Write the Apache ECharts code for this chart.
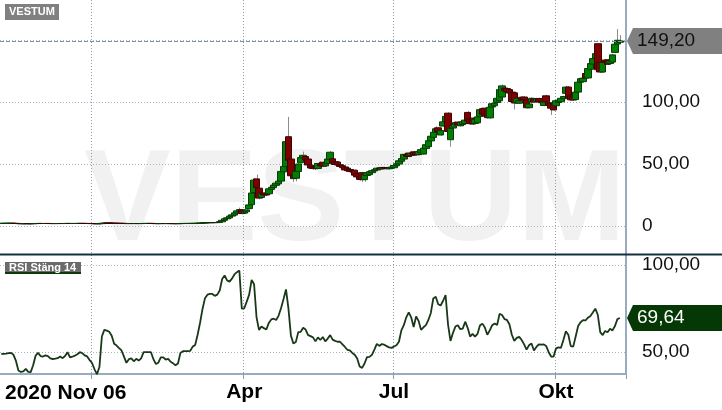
<!DOCTYPE html>
<html>
<head>
<meta charset="utf-8">
<script src="https://cdn.jsdelivr.net/npm/echarts@6/dist/echarts.min.js"></script>
<style>
  html, body { margin: 0; padding: 0; background: #fff; }
  #chart { width: 722px; height: 410px; }
</style>
</head>
<body>
<div id="chart"></div>
<script>
var holidays = ['2020-12-24','2020-12-25','2020-12-31','2021-01-01','2021-01-06','2021-04-02','2021-04-05','2021-05-13','2021-06-25'];
var firstDay = '2020-11-06';
var dayCount = 253;
var padCount = 2;
// quarter starts (index of first trading day): Jan, Apr, Jul, Okt
var quarterMarks = {37: '', 99: 'Apr', 160: 'Jul', 226: 'Okt'};
var firstLabel = '2020 Nov 06';
var priceTicks = [0, 50, 100];
var rsiTicks = [50, 100];
var lastPrice = 149.20;
var lastRsi = 69.64;

// [open, close, low, high]
var candles = [
  [2.06,2.10,2.02,2.14],[2.10,2.12,2.07,2.16],[2.12,2.14,2.09,2.18],[2.14,2.15,2.10,2.19],[2.15,2.16,2.11,2.22],[2.16,2.12,2.08,2.18],
  [2.12,2.02,1.98,2.14],[2.02,1.92,1.88,2.04],[1.92,1.90,1.86,1.95],[1.90,1.91,1.87,1.94],[1.91,1.93,1.88,1.96],[1.93,1.90,1.87,1.95],
  [1.90,1.89,1.85,1.93],[1.89,1.94,1.87,1.97],[1.94,2.02,1.92,2.05],[2.02,2.05,2.00,2.08],[2.05,2.02,1.99,2.07],[2.02,2.01,1.98,2.04],
  [2.01,2.03,1.99,2.06],[2.03,2.02,1.99,2.05],[2.02,1.99,1.96,2.04],[1.99,1.98,1.95,2.01],[1.98,1.99,1.96,2.02],[1.99,2.00,1.97,2.03],
  [2.00,2.02,1.98,2.05],[2.02,2.00,1.97,2.04],[2.00,2.03,1.98,2.06],[2.03,2.06,2.01,2.09],[2.06,2.01,1.99,2.08],[2.01,2.02,1.98,2.05],
  [2.02,2.04,2.00,2.07],[2.04,2.05,2.02,2.08],[2.05,2.07,2.03,2.10],[2.07,2.06,2.03,2.09],[2.06,2.04,2.01,2.08],[2.04,2.03,2.00,2.06],
  [2.03,1.99,1.96,2.05],[1.99,1.96,1.93,2.01],[1.96,1.90,1.87,1.98],[1.90,1.85,1.81,1.92],[1.85,1.92,1.83,1.95],[1.92,2.20,1.90,2.26],
  [2.20,2.30,2.16,2.36],[2.30,2.29,2.24,2.34],[2.29,2.27,2.22,2.32],[2.27,2.22,2.18,2.29],[2.22,2.14,2.10,2.24],[2.14,2.12,2.08,2.17],
  [2.12,2.10,2.06,2.15],[2.10,2.08,2.04,2.13],[2.08,2.03,2.00,2.10],[2.03,1.97,1.94,2.05],[1.97,2.00,1.95,2.03],[2.00,2.01,1.97,2.04],
  [2.01,1.98,1.95,2.03],[1.98,2.00,1.96,2.02],[2.00,1.98,1.95,2.02],[1.98,2.00,1.96,2.03],[2.00,2.05,1.98,2.08],[2.05,2.05,2.02,2.08],
  [2.05,2.06,2.02,2.09],[2.06,2.05,2.02,2.08],[2.05,1.99,1.96,2.06],[1.99,1.95,1.92,2.01],[1.95,1.96,1.92,1.99],[1.96,2.00,1.94,2.03],
  [2.00,2.00,1.97,2.03],[2.00,1.98,1.95,2.02],[1.98,1.99,1.95,2.02],[1.99,1.96,1.93,2.01],[1.96,1.95,1.92,1.98],[1.95,1.93,1.90,1.97],
  [1.93,1.94,1.90,1.97],[1.94,2.02,1.92,2.05],[2.02,2.04,2.00,2.07],[2.04,2.04,2.01,2.07],[2.04,2.05,2.01,2.08],[2.05,2.05,2.02,2.08],
  [2.05,2.09,2.03,2.12],[2.09,2.11,2.06,2.15],[2.11,2.20,2.09,2.24],[2.20,2.32,2.18,2.36],[2.32,2.48,2.30,2.52],[2.48,2.62,2.45,2.68],
  [2.62,2.70,2.58,2.76],[2.70,2.74,2.66,2.80],[2.74,2.76,2.70,2.82],[2.76,2.75,2.70,2.82],[2.75,2.85,2.72,2.92],
  [2.9,3.5,2.85,3.7],[3.4,4.6,3.3,4.8],[4.6,5.8,4.5,6.2],[5.8,6.6,5.5,7.0],[6.5,8.0,6.3,8.4],[8.0,9.0,7.6,9.6],
  [8.8,10.6,8.5,11.2],[10.5,12.2,10.0,12.8],[11.8,13.2,11.5,14.8],[13.0,10.0,9.5,13.4],[10.4,11.6,10.0,12.4],[11.5,13.0,11.2,13.6],
  [14.0,17.0,13.8,17.6],[17.2,26.6,17.0,27.5],[27.0,37.0,26.5,38.5],[38.0,31.0,30.0,41.5],[30.5,22.5,21.5,31.0],[23.0,26.4,22.5,27.0],
  [26.6,25.0,24.5,27.2],[25.6,25.0,24.0,26.5],[26.0,30.0,25.5,30.8],[29.5,31.2,29.0,32.0],[31.0,33.0,30.5,33.8],[32.8,34.6,32.2,35.2],
  [34.0,36.2,33.5,37.0],[36.2,44.0,36.0,45.0],[43.6,48.0,43.0,49.0],[48.0,68.0,47.5,70.0],[72.0,53.0,51.0,88.0],[54.0,40.5,39.5,55.0],
  [41.0,38.2,35.5,42.0],[38.5,44.0,36.0,45.0],[44.0,50.0,43.0,51.0],[51.0,55.2,50.5,56.0],[55.0,57.0,54.0,60.0],[56.0,53.2,52.5,56.5],
  [54.0,49.2,48.5,54.5],[49.0,46.8,46.0,50.0],[47.6,46.4,45.5,48.5],[47.4,46.2,45.0,48.0],[46.4,50.4,46.0,51.0],[50.0,48.6,48.0,52.0],
  [51.4,48.2,47.5,52.0],[48.5,50.2,47.8,51.0],[50.4,54.0,50.0,55.0],[53.5,59.5,53.0,60.5],[54.2,51.2,50.5,57.0],[51.8,49.6,49.0,53.0],
  [51.6,49.2,48.5,52.4],[49.4,48.0,47.2,50.2],[48.6,47.0,46.2,49.4],[47.6,45.2,44.5,48.2],[46.6,44.6,43.6,47.4],[45.6,44.0,43.0,46.2],
  [44.6,43.6,42.8,45.4],[45.0,41.0,40.0,45.6],[42.0,39.6,38.5,42.6],[40.0,37.6,36.5,40.8],[43.0,37.4,35.5,43.6],[37.4,41.0,35.6,42.5],
  [40.8,43.0,40.0,44.0],[41.4,43.8,40.6,44.6],[43.0,44.6,42.0,45.4],[44.4,45.4,43.6,46.2],[45.2,46.6,44.8,47.4],[46.8,46.0,45.4,47.6],
  [46.0,47.2,45.6,47.8],[47.2,46.8,46.2,47.8],[46.8,46.2,45.8,47.4],[46.2,46.6,45.4,47.2],[46.6,47.6,46.0,48.2],[47.0,48.8,46.6,49.4],
  [48.6,50.2,48.0,51.0],[50.0,52.6,49.6,53.4],[52.2,54.4,51.6,55.2],[54.0,57.8,53.6,58.6],[57.6,56.2,55.4,58.4],[58.8,56.0,55.6,59.4],
  [57.0,58.6,56.2,59.4],[59.8,57.2,56.8,60.4],[59.6,57.4,57.0,60.6],[57.6,60.0,57.0,60.8],[59.4,61.6,58.6,62.4],[58.0,62.8,57.4,63.4],
  [62.4,65.6,61.6,66.4],[64.0,68.8,63.4,69.6],[68.6,72.4,68.0,73.4],
  [71.4,75.6,70.8,76.6],[75.4,78.4,74.8,80.4],[79.2,76.2,75.8,80.0],[73.4,77.0,72.8,78.0],[80.6,84.0,80.0,85.0],[84.2,88.4,83.6,89.4],
  [91.0,76.2,75.6,91.8],[69.6,78.8,64.0,79.4],[79.0,80.6,78.4,81.4],[81.4,83.4,80.8,84.2],[83.8,81.4,80.8,84.4],[80.8,83.6,80.2,84.4],
  [81.8,84.0,81.2,84.8],[82.6,85.4,82.0,86.2],[91.6,84.6,84.0,92.6],[86.2,82.6,82.0,87.0],[87.0,82.2,81.6,87.8],[82.8,86.0,82.2,86.6],
  [83.2,88.0,82.6,89.0],[88.4,93.8,87.8,94.6],[94.6,90.2,89.4,95.4],[95.0,89.0,88.4,95.6],[92.8,87.4,86.8,93.6],[87.2,95.8,86.6,96.6],
  [96.0,98.6,95.6,99.4],[97.0,99.0,96.4,99.8],[99.6,103.0,99.0,104.0],[101.0,110.0,100.4,111.6],[104.0,113.0,103.4,114.2],[111.2,109.0,108.4,112.0],
  [110.8,108.2,107.6,111.6],[110.0,107.2,100.6,110.8],[108.0,100.4,99.6,108.6],[107.4,99.2,94.0,108.0],[99.4,102.8,98.8,103.6],[99.0,101.0,98.4,101.8],
  [103.8,101.6,101.0,104.6],[104.0,101.8,100.6,104.8],[101.6,95.4,94.8,102.4],[95.4,98.4,94.8,99.2],[100.0,103.0,99.4,103.8],[102.6,100.0,99.4,103.2],
  [100.4,102.6,99.8,103.4],[102.8,100.2,99.6,103.6],[99.8,99.4,98.8,101.0],[97.2,100.0,96.6,100.8],[105.0,100.2,99.6,105.8],[99.4,97.6,97.0,100.2],
  [99.0,95.0,89.6,99.6],[97.6,93.6,93.0,98.2],[97.0,101.0,96.4,101.8],[99.6,101.4,98.8,102.2],[100.2,103.0,99.6,103.8],[102.6,104.4,102.0,105.0],
  [107.0,112.0,106.4,113.0],[112.0,103.2,102.6,112.8],[105.6,101.8,101.2,106.4],[104.2,101.6,101.0,104.8],[102.0,108.0,101.4,108.8],[108.0,116.0,107.4,117.0],
  [116.0,118.8,115.4,119.6],[116.4,119.2,115.8,120.0],[123.0,119.4,118.8,123.6],[119.4,127.0,118.8,128.0],[126.4,131.0,125.8,131.8],[130.6,135.0,130.0,135.8],
  [135.0,139.0,134.4,140.0],[147.0,126.0,125.4,147.6],[132.0,124.2,123.6,132.8],[124.2,131.8,123.6,132.6],[133.8,132.2,131.6,134.6],[134.0,130.4,129.8,134.8],
  [131.0,133.0,130.4,133.8],[132.2,138.0,131.6,138.8],[140.0,146.6,139.4,147.4],[146.8,149.8,146.2,158.8],[148.2,149.2,147.6,154.0]
];

var rsi = [
  49, 49, 49.2, 49.5, 49.6, 48.5, 45, 39.5, 38.7, 39,
  40.4, 38.7, 38.6, 42.5, 48, 49.6, 47.8, 47.5, 48.2, 47.8,
  46.4, 46.1, 46.3, 46.6, 47.5, 46.6, 47.8, 50, 47, 47.4,
  48, 48.8, 50, 49.5, 48.2, 47.6, 45.5, 43.8, 40.2, 37.4,
  41.5, 59, 62.8, 62.4, 61.7, 59.5, 54.8, 53.8, 52.3, 51,
  47.5, 43.9, 46, 46.5, 44.8, 46.2, 45.2, 46.5, 50, 50,
  50, 50, 46, 43.2, 44, 47, 47, 45.8, 46.2, 44.5,
  43.6, 42.5, 43.5, 49.6, 50.6, 50.6, 50.6, 50.8, 53.2, 54.1,
  60, 66.9, 74.8, 81, 83, 83.5, 83.4, 82.3, 83, 85.4,
  92, 94, 91.2, 90.5, 92.2, 94.6, 95.9, 96.8, 75, 75.2,
  79, 83, 91.5, 89, 70, 62.8, 64.8, 63.8, 63, 66.8,
  68.8, 69.2, 68.5, 71, 75.3, 80.5, 86, 75, 59.5, 55,
  55.8, 61.5, 61.7, 64, 63, 59.8, 59.2, 58.5, 56.2, 58.5,
  57, 58.7, 56.2, 57.8, 59.8, 57.2, 56.5, 56, 56, 54.5,
  53, 51.4, 51, 49.6, 48.6, 46.4, 41.8, 41, 43.5, 47.2,
  47.3, 48.5, 51.5, 54.8, 53.6, 54.7, 54.3, 53.5, 52.8, 52.5,
  53.3, 54, 56, 62.5, 65.5, 70, 72.8, 70, 64.5, 70.5,
  68, 62.8, 64.3, 65.5, 68.5, 72.5, 80.8, 81.8, 77.5, 76.8,
  79.5, 82.8, 66, 56.5, 61, 64.7, 65.5, 63.2, 63.5, 67.5,
  64, 59, 60.5, 59, 60.5, 65.3, 66.4, 64.2, 60, 62.5,
  65.5, 66.5, 65.6, 72, 71.3, 69, 68.5, 66, 60, 56.5,
  58.2, 58.8, 57, 54.5, 51.5, 54, 55, 51, 53, 54.5,
  54.3, 54.5, 53.5, 50, 47.5, 47.5, 52.2, 52.8, 52.5, 57,
  62, 60, 53.5, 53.2, 59, 65, 67.2, 68.4, 68.2, 69.8,
  70.8, 72.8, 75, 71.5, 61.5, 59.8, 62.2, 61.4, 63.4, 62.5,
  65, 69, 69.64
];

var FONT = '"Liberation Sans", Arial, sans-serif';

function tradingDays(start, n) {
  var out = [];
  var d = new Date(start + 'T12:00:00Z');
  while (out.length < n) {
    var s = d.toISOString().slice(0, 10);
    var wd = d.getUTCDay();
    if (wd !== 0 && wd !== 6 && holidays.indexOf(s) < 0) out.push(s);
    d.setUTCDate(d.getUTCDate() + 1);
  }
  return out;
}

var dates = tradingDays(firstDay, dayCount);
for (var p = 0; p < padCount; p++) dates.push('pad' + p);

var bodies = candles.map(function (c) {
  return [c[0], c[1], Math.min(c[0], c[1]), Math.max(c[0], c[1])];
});
var wicks = candles.map(function (c, i) { return [i, c[2], c[3]]; });

function isMark(i) { return quarterMarks.hasOwnProperty(i); }
function fmt(v) { return v === 0 ? '0' : v.toFixed(2).replace('.', ','); }

var gridLine = {color: '#8a9bad', type: [1, 2], width: 1};
var clear = 'rgba(0,0,0,0)';
var hLine = '#a8b5c3';

var chart = echarts.init(document.getElementById('chart'));
chart.setOption({
  animation: false,
  backgroundColor: '#fff',
  grid: [
    {left: 0, right: 96, top: 0, height: 257, outerBoundsMode: 'none'},
    {left: 0, right: 96, top: 255, height: 119, outerBoundsMode: 'none'}
  ],
  xAxis: [
    {
      gridIndex: 0, type: 'category', data: dates, boundaryGap: true,
      axisLine: {show: false}, axisTick: {show: false}, axisLabel: {show: false},
      splitLine: {show: true, interval: isMark, lineStyle: gridLine}
    },
    {
      gridIndex: 1, type: 'category', data: dates, boundaryGap: true,
      axisLine: {show: true, lineStyle: {color: '#9aabbd', width: 2}},
      axisTick: {show: true, interval: isMark, length: 5, lineStyle: {color: '#8a9bad'}},
      axisLabel: {
        show: true, interval: isMark, margin: 8,
        color: '#000', fontSize: 21, fontWeight: 'bold', fontFamily: FONT,
        formatter: function (v, i) { return quarterMarks[i] || ''; }
      },
      splitLine: {show: true, interval: isMark, lineStyle: gridLine}
    }
  ],
  yAxis: [
    {
      gridIndex: 0, type: 'value', position: 'right',
      min: -25, max: 182.26, interval: 25,
      axisLine: {show: true, lineStyle: {color: '#9aabbd', width: 2}},
      axisTick: {show: false},
      axisLabel: {
        margin: 16, color: '#111', fontSize: 19, fontFamily: FONT,
        formatter: function (v) { return priceTicks.indexOf(v) >= 0 ? fmt(v) : ''; }
      },
      splitLine: {show: true, showMaxLine: false, lineStyle: {color: [clear, hLine], type: [1, 2]}}
    },
    {
      gridIndex: 1, type: 'value', position: 'right',
      min: 37.5, max: 105.75, interval: 12.5,
      axisLine: {show: true, lineStyle: {color: '#9aabbd', width: 2}},
      axisTick: {show: false},
      axisLabel: {
        margin: 16, color: '#111', fontSize: 19, fontFamily: FONT,
        formatter: function (v) { return rsiTicks.indexOf(v) >= 0 ? fmt(v) : ''; }
      },
      splitLine: {show: true, showMaxLine: false, lineStyle: {color: [clear, hLine, clear, clear], type: [1, 2]}}
    }
  ],
  series: [
    {
      type: 'custom', name: 'wick', xAxisIndex: 0, yAxisIndex: 0, z: 1,
      data: wicks, encode: {x: 0, y: [1, 2]},
      renderItem: function (params, api) {
        var a = api.coord([api.value(0), api.value(1)]);
        var b = api.coord([api.value(0), api.value(2)]);
        var x = Math.round(a[0]) + 0.5;
        return {
          type: 'line',
          shape: {x1: x, y1: a[1], x2: x, y2: b[1]},
          style: {stroke: '#8c8c8c', lineWidth: 1}
        };
      }
    },
    {
      type: 'candlestick', name: 'VESTUM', xAxisIndex: 0, yAxisIndex: 0, z: 2,
      data: bodies, barWidth: 7,
      itemStyle: {
        color: '#008000', color0: '#800000',
        borderColor: '#0a3a0a', borderColor0: '#3a0505', borderWidth: 1
      },
      markLine: {
        silent: true, symbol: ['none', 'none'], label: {show: false},
        lineStyle: {color: '#7f8fa0', type: [4, 2], width: 1},
        data: [{yAxis: lastPrice}]
      }
    },
    {
      type: 'line', name: 'RSI', xAxisIndex: 1, yAxisIndex: 1,
      data: rsi, symbol: 'none', z: 3,
      lineStyle: {color: '#183818', width: 1.8}
    }
  ]
});

function priceTag(y, fill, textColor, text) {
  return {
    type: 'group', z: 20,
    children: [
      {type: 'polygon', shape: {points: [[627, y], [633, y - 13], [722, y - 13], [722, y + 13], [633, y + 13]]}, style: {fill: fill}},
      {type: 'text', x: 637, y: y, style: {text: text, fill: textColor, font: '19px ' + FONT, verticalAlign: 'middle'}}
    ]
  };
}

var yPrice = chart.convertToPixel({yAxisIndex: 0}, lastPrice);
var yRsi = chart.convertToPixel({yAxisIndex: 1}, lastRsi);

chart.setOption({
  graphic: [
    {type: 'text', z: -100, x: 84, y: 204, silent: true,
      style: {text: 'VESTUM', fill: '#f1f1f1', font: 'bold 130px ' + FONT, verticalAlign: 'middle'}},
    {type: 'rect', z: 10, shape: {x: 0, y: 253.5, width: 722, height: 2}, style: {fill: '#15303f'}},
    {type: 'rect', z: 10, shape: {x: 5, y: 4, width: 54, height: 16}, style: {fill: '#808080'}},
    {type: 'text', z: 11, x: 9, y: 12, style: {text: 'VESTUM', fill: '#fff', font: 'bold 11px ' + FONT, verticalAlign: 'middle'}},
    {type: 'rect', z: 10, shape: {x: 5, y: 262, width: 76, height: 11}, style: {fill: '#6a6a6a'}},
    {type: 'rect', z: 10, shape: {x: 5, y: 272, width: 76, height: 2}, style: {fill: '#0d3a0d'}},
    {type: 'text', z: 11, x: 9, y: 267.5, style: {text: 'RSI Stäng 14', fill: '#fff', font: 'bold 11px ' + FONT, verticalAlign: 'middle'}},
    {type: 'text', z: 11, x: 5, y: 383, style: {text: firstLabel, fill: '#000', font: 'bold 21px ' + FONT, verticalAlign: 'top'}},
    priceTag(yPrice, '#808080', '#111', fmt(lastPrice)),
    priceTag(yRsi, '#063806', '#fff', fmt(lastRsi))
  ]
});
</script>
</body>
</html>
